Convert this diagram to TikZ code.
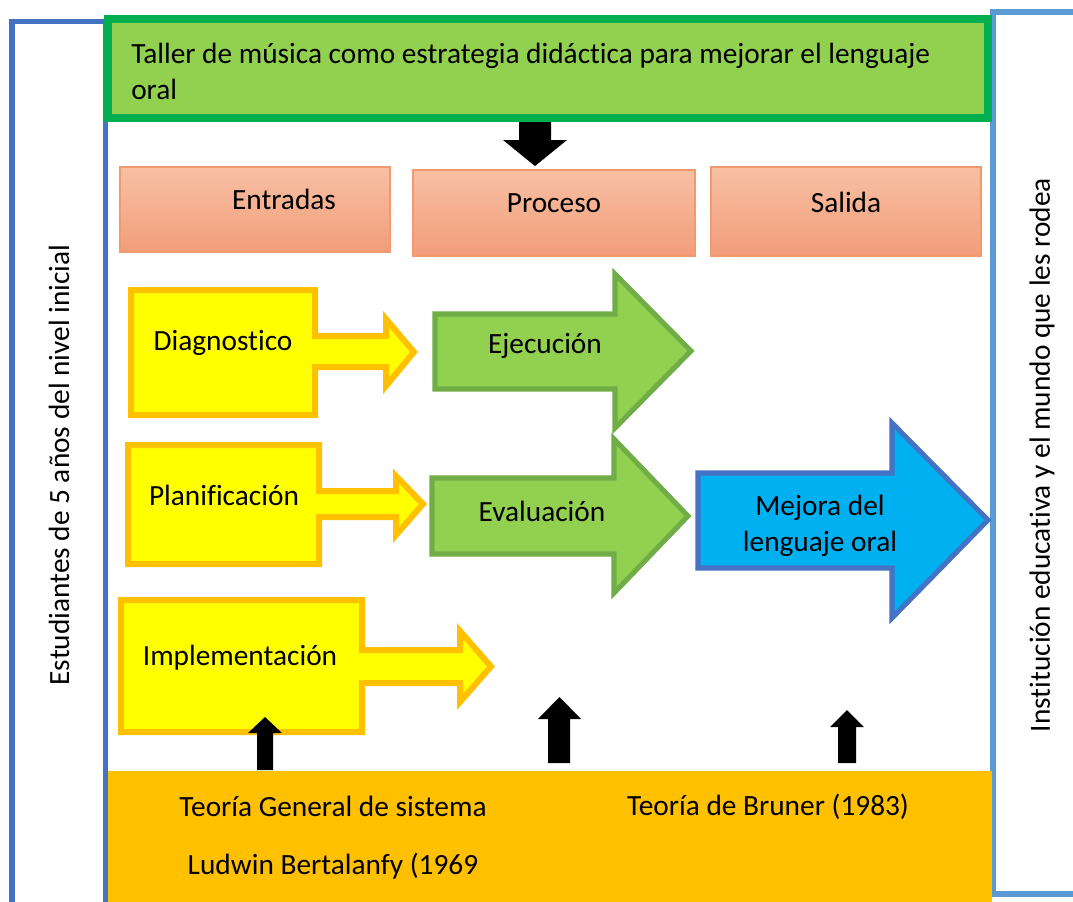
\documentclass[tikz,border=0pt]{standalone}
\usepackage{fontspec}
\setmainfont{Carlito}[Ligatures=NoCommon]
\definecolor{frameA}{HTML}{4472C4}
\definecolor{frameB}{HTML}{5B9BD5}
\definecolor{titleborder}{HTML}{00B050}
\definecolor{lgreen}{HTML}{92D050}
\definecolor{dgreen}{HTML}{70AD47}
\definecolor{yfill}{HTML}{FFFF00}
\definecolor{gold}{HTML}{FFC000}
\definecolor{cyanfill}{HTML}{00B0F0}
\definecolor{salmontop}{HTML}{F7C0A3}
\definecolor{salmonbot}{HTML}{F29D7B}
\definecolor{salmonline}{HTML}{F09A6E}
\begin{document}
\begin{tikzpicture}[x=0.75pt,y=-0.75pt,
  txt/.style={font=\fontsize{22}{27}\selectfont, inner sep=0pt, text=black},
  yarrow/.style={draw=gold, fill=yfill, line width=4.5pt, line join=miter},
  garrow/.style={draw=dgreen, fill=lgreen, line width=3.8pt, line join=miter},
  barrow/.style={draw=frameA, fill=cyanfill, line width=3.8pt, line join=miter},
  salmonbox/.style={draw=salmonline, line width=0.8pt, top color=salmontop, bottom color=salmonbot}]
\useasboundingbox (0,0) rectangle (1073,901);
% side frames
\draw[frameA, line width=3.8pt] (12,905) -- (12,21.5) -- (105.5,21.5) -- (105.5,905);
\draw[frameB, line width=3.8pt] (1080,12) -- (993,12) -- (993,894) -- (1080,894);
% title box
\draw[titleborder, fill=lgreen, line width=6pt] (108,18.5) rectangle (988,117.5);
\node[txt, anchor=west, align=left] (title) at (131,71)
  {Taller de música como estrategia didáctica para mejorar el lenguaje\\oral};
% down arrow
\fill[black] (519,122) -- (551,122) -- (551,140) -- (567,140) -- (535,166) -- (503,140) -- (519,140) -- cycle;
% headers
\path[salmonbox] (120,167) rectangle (390,252);
\path[salmonbox] (413,170) rectangle (695,256);
\path[salmonbox] (711,167) rectangle (981,256);
\node[txt] (entradas) at (284,199) {Entradas};
\node[txt] (proceso) at (554,203) {Proceso};
\node[txt] (salida) at (846,202) {Salida};
% yellow callouts
\draw[yarrow] (131,290) -- (315,290) -- (315,336) -- (386,336) -- (386,319) -- (414,352) -- (386,386) -- (386,367) -- (315,367) -- (315,415) -- (131,415) -- cycle;
\draw[yarrow] (128,445) -- (319,445) -- (319,491) -- (396,491) -- (396,476) -- (423,504) -- (396,535) -- (396,517) -- (319,517) -- (319,564) -- (128,564) -- cycle;
\draw[yarrow] (121,600) -- (362,600) -- (362,650) -- (460,650) -- (460,631) -- (491,666.5) -- (460,702) -- (460,683) -- (362,683) -- (362,732) -- (121,732) -- cycle;
\node[txt] (diag) at (223,343) {Diagnostico};
\node[txt] (plan) at (224,495) {Planificación};
\node[txt] (impl) at (240,658) {Implementación};
% green arrows
\draw[garrow] (435,314) -- (615,314) -- (615,274) -- (691,351) -- (615,428) -- (615,389) -- (435,389) -- cycle;
\draw[garrow] (432,478) -- (614,478) -- (614,439) -- (688,516) -- (614,593) -- (614,554) -- (432,554) -- cycle;
\node[txt] (ejec) at (545,346) {Ejecución};
\node[txt] (eval) at (542,511) {Evaluación};
% blue arrow
\draw[barrow] (698,473) -- (892,473) -- (892,423) -- (988,520) -- (892,618) -- (892,568) -- (698,568) -- cycle;
\node[txt, align=center] (mejora) at (820,526) {Mejora del\\lenguaje oral};
% bottom theory box
\fill[gold] (108,771) rectangle (992,905);
\node[txt] (tgs) at (333,806) {Teoría General de sistema};
\node[txt] (bruner) at (768,807) {Teoría de Bruner (1983)};
\node[txt] (ludwin) at (333,866) {Ludwin Bertalanfy (1969};
% up arrows
\fill[black] (257,770) -- (257,733) -- (248,733) -- (265,717) -- (282,733) -- (273,733) -- (273,770) -- cycle;
\fill[black] (548,763) -- (548,719) -- (538,719) -- (559.5,697) -- (581,719) -- (570,719) -- (570,763) -- cycle;
\fill[black] (838,763) -- (838,727) -- (830,727) -- (847,710) -- (864,727) -- (856,727) -- (856,763) -- cycle;
% side labels
\node[txt, rotate=90] (estud) at (59,465) {Estudiantes de 5 años del nivel inicial};
\node[txt, rotate=90] (inst) at (1042,455) {Institución educativa y el mundo que les rodea};
\end{tikzpicture}
\end{document}
